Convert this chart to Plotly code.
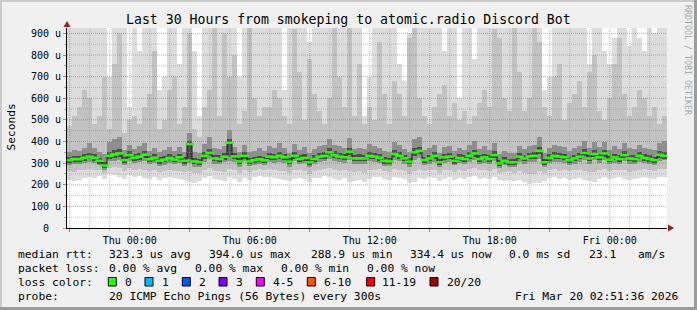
import plotly.graph_objects as go
import pandas as pd

# ---------------- data ----------------
title_text = "Last 30 Hours from smokeping to atomic.radio Discord Bot"
range_start = "2026-03-18 20:51:36"
range_end = "2026-03-20 02:51:36"
first_bucket = "2026-03-18 20:59:06"   # centre of the first 15-minute bucket
bucket = "15min"

median_us = [314, 319, 318, 325, 330, 325, 311, 289, 334, 340,
             345, 314, 337, 325, 330, 339, 318, 325, 311, 316,
             324, 316, 327, 311, 388, 308, 304, 334, 347, 322,
             319, 330, 394, 331, 308, 334, 308, 314, 318, 313,
             330, 327, 334, 327, 307, 334, 319, 324, 304, 319,
             330, 334, 350, 337, 330, 327, 353, 322, 322, 322,
             334, 330, 325, 311, 308, 342, 334, 322, 307, 350,
             357, 314, 322, 334, 304, 327, 330, 311, 324, 319,
             334, 345, 319, 327, 319, 337, 299, 311, 304, 304,
             330, 322, 331, 334, 357, 304, 324, 334, 330, 327,
             314, 322, 330, 347, 322, 342, 327, 345, 316, 327,
             319, 337, 322, 319, 334, 324, 319, 314, 339, 334]

ping_min = [220, 216, 222, 230, 236, 232, 240, 228, 250, 246,
            238, 226, 244, 236, 240, 232, 228, 236, 222, 230,
            238, 230, 226, 222, 214, 210, 218, 232, 240, 228,
            224, 216, 236, 226, 214, 232, 222, 238, 242, 236,
            236, 230, 226, 222, 218, 228, 232, 226, 214, 230,
            232, 240, 236, 226, 222, 230, 212, 216, 220, 214,
            226, 234, 238, 228, 222, 236, 232, 226, 210, 214,
            230, 226, 238, 232, 218, 228, 236, 222, 230, 226,
            236, 240, 228, 232, 226, 234, 220, 216, 222, 218,
            224, 212, 202, 206, 210, 218, 230, 236, 226, 232,
            224, 228, 232, 222, 218, 214, 228, 236, 226, 230,
            234, 228, 222, 226, 230, 236, 232, 226, 234, 238]

ping_lo = [262, 258, 266, 270, 274, 270, 268, 256, 278, 282,
           276, 262, 276, 268, 272, 266, 262, 270, 258, 264,
           270, 264, 262, 258, 262, 254, 256, 270, 278, 264,
           262, 258, 272, 266, 254, 270, 258, 266, 272, 268,
           272, 266, 264, 262, 256, 268, 266, 264, 252, 264,
           268, 272, 276, 266, 262, 268, 262, 258, 262, 256,
           266, 270, 272, 264, 258, 274, 268, 262, 252, 262,
           270, 262, 270, 268, 256, 266, 270, 260, 266, 262,
           272, 276, 266, 268, 262, 272, 256, 258, 262, 256,
           264, 256, 250, 252, 262, 256, 266, 272, 264, 268,
           262, 266, 270, 264, 260, 258, 266, 272, 262, 266,
           268, 266, 260, 264, 270, 272, 268, 262, 272, 274]

ping_core_lo = [292, 296, 294, 300, 304, 300, 290, 270, 308, 312,
                316, 292, 310, 300, 306, 312, 296, 300, 288, 292,
                300, 294, 302, 288, 300, 284, 282, 306, 318, 298,
                296, 304, 310, 306, 284, 308, 286, 292, 296, 290,
                304, 302, 306, 302, 284, 308, 296, 300, 282, 296,
                304, 308, 320, 310, 304, 302, 316, 298, 298, 296,
                308, 304, 300, 288, 286, 314, 308, 298, 284, 316,
                322, 292, 298, 306, 282, 302, 304, 290, 300, 296,
                306, 314, 296, 302, 296, 310, 276, 290, 282, 284,
                304, 298, 304, 306, 318, 282, 300, 306, 304, 302,
                292, 298, 304, 316, 298, 314, 302, 314, 294, 302,
                296, 308, 298, 296, 306, 300, 296, 292, 310, 314]

ping_dark_lo = [302, 306, 305, 312, 318, 312, 298, 278, 320, 326,
                330, 302, 322, 312, 316, 326, 305, 312, 298, 303,
                310, 303, 314, 298, 320, 295, 291, 320, 332, 309,
                306, 316, 330, 318, 295, 320, 295, 301, 305, 300,
                316, 314, 320, 314, 294, 320, 306, 311, 291, 306,
                317, 321, 335, 323, 317, 314, 336, 309, 309, 309,
                320, 317, 312, 298, 295, 328, 320, 309, 294, 334,
                340, 301, 309, 320, 291, 314, 317, 298, 311, 306,
                320, 330, 306, 314, 306, 323, 286, 298, 291, 291,
                317, 309, 318, 320, 340, 291, 311, 320, 317, 314,
                301, 309, 317, 332, 309, 328, 314, 330, 303, 314,
                306, 323, 309, 306, 320, 311, 306, 301, 325, 320]

ping_dark_hi = [330, 334, 332, 342, 348, 340, 326, 306, 352, 360,
                364, 330, 354, 340, 348, 356, 334, 342, 328, 332,
                342, 332, 344, 328, 404, 324, 320, 352, 366, 338,
                336, 348, 410, 348, 324, 350, 324, 330, 334, 330,
                348, 344, 352, 344, 324, 352, 336, 340, 320, 336,
                348, 352, 368, 354, 348, 344, 372, 338, 340, 338,
                352, 348, 342, 328, 324, 360, 352, 338, 324, 368,
                376, 330, 338, 352, 320, 344, 348, 328, 340, 336,
                352, 362, 336, 344, 336, 354, 316, 328, 320, 320,
                348, 338, 348, 352, 376, 320, 340, 352, 348, 344,
                330, 338, 348, 366, 338, 360, 344, 362, 332, 344,
                336, 354, 338, 336, 352, 340, 336, 330, 356, 352]

ping_core_hi = [352, 360, 356, 372, 392, 368, 350, 340, 396, 410,
                420, 360, 384, 366, 378, 392, 358, 372, 352, 362,
                374, 358, 376, 350, 440, 352, 346, 388, 420, 368,
                366, 380, 452, 376, 350, 384, 352, 358, 370, 356,
                378, 372, 392, 370, 348, 390, 360, 374, 346, 366,
                380, 386, 410, 384, 378, 372, 418, 366, 370, 364,
                388, 380, 372, 356, 350, 398, 384, 366, 350, 412,
                420, 360, 368, 386, 346, 374, 380, 354, 372, 362,
                384, 402, 364, 378, 362, 392, 340, 356, 346, 348,
                378, 366, 380, 386, 420, 348, 372, 386, 378, 376,
                358, 370, 380, 402, 368, 396, 376, 398, 362, 378,
                364, 392, 368, 366, 386, 372, 366, 360, 394, 404]

ping_hi = [470, 520, 560, 640, 600, 480, 520, 700, 460, 760,
           900, 440, 500, 520, 480, 560, 620, 820, 460, 500,
           640, 700, 480, 560, 900, 460, 420, 560, 640, 940,
           520, 900, 700, 800, 480, 540, 940, 600, 520, 560,
           560, 640, 600, 520, 480, 920, 720, 500, 780, 620,
           540, 480, 600, 940, 700, 560, 940, 520, 760, 480,
           560, 500, 860, 620, 480, 680, 620, 520, 880, 940,
           600, 520, 480, 560, 620, 660, 520, 580, 500, 540,
           480, 520, 580, 640, 560, 920, 880, 600, 540, 940,
           720, 540, 600, 940, 860, 560, 520, 700, 760, 500,
           580, 620, 680, 560, 720, 800, 540, 500, 600, 760,
           880, 620, 520, 560, 640, 600, 520, 560, 480, 520]

ping_max = [980, 980, 980, 980, 980, 980, 980, 980, 700, 980,
            980, 980, 560, 980, 820, 980, 980, 980, 640, 700,
            980, 980, 760, 980, 980, 820, 520, 980, 980, 980,
            980, 980, 980, 980, 700, 980, 980, 980, 980, 980,
            980, 980, 980, 640, 980, 980, 980, 980, 860, 980,
            980, 980, 980, 980, 980, 980, 980, 980, 980, 520,
            700, 980, 980, 980, 980, 980, 760, 680, 900, 980,
            980, 980, 980, 980, 980, 820, 980, 980, 600, 980,
            980, 780, 980, 980, 980, 980, 980, 980, 980, 980,
            980, 980, 980, 980, 980, 640, 700, 980, 980, 980,
            980, 980, 980, 980, 760, 980, 980, 820, 760, 880,
            980, 980, 840, 980, 880, 820, 980, 900, 980, 980]

y_tick_vals = [0, 100, 200, 300, 400, 500, 600, 700, 800, 900]
y_tick_text = ["0\u00a0\u00a0", "100 u", "200 u", "300 u", "400 u",
               "500 u", "600 u", "700 u", "800 u", "900 u"]
y_minor_vals = [50, 150, 250, 350, 450, 550, 650, 750, 850]
y_max = 925

x_tick_vals = ["2026-03-18 21:00", "2026-03-19 00:00", "2026-03-19 03:00",
               "2026-03-19 06:00", "2026-03-19 09:00", "2026-03-19 12:00",
               "2026-03-19 15:00", "2026-03-19 18:00", "2026-03-19 21:00",
               "2026-03-20 00:00"]
x_tick_text = ["", "Thu 00:00", "", "Thu 06:00", "", "Thu 12:00", "",
               "Thu 18:00", "", "Fri 00:00"]

rtt_label = "median rtt:"
rtt_stats = ["323.3 us avg", "394.0 us max", "288.9 us min",
             "334.4 us now", "0.0 ms sd", "23.1", "am/s"]
loss_label = "packet loss:"
loss_stats = ["0.00 % avg", "0.00 % max", "0.00 % min", "0.00 % now"]
color_label = "loss color:"
loss_names = ["0", "1", "2", "3", "4-5", "6-10", "11-19", "20/20"]
loss_colors = ["#26ff00", "#00b8ff", "#0059ff", "#7e00ff",
               "#ff00ff", "#ff5500", "#ff0000", "#a10000"]
probe_label = "probe:"
probe_text = "20 ICMP Echo Pings (56 Bytes) every 300s"
stamp_text = "Fri Mar 20 02:51:36 2026"
watermark = "RRDTOOL / TOBI OETIKER"

# ---------------- layout geometry ----------------
W, H = 697, 310
L, R, T, B = 67, 667, 28, 228
MONO = "DejaVu Sans Mono"


def fx(px):
    return (px - L) / (R - L)


def fy(py):
    return (B - py) / (B - T)


times = pd.date_range(first_bucket, periods=len(median_us), freq=bucket)
bar_w = pd.Timedelta(bucket).total_seconds() * 1000

fig = go.Figure()

bands = [
    (ping_min, ping_max, "#dcdcdc"),
    (ping_lo, ping_hi, "#c2c2c2"),
    (ping_core_lo, ping_core_hi, "#8e8e8e"),
    (ping_dark_lo, ping_dark_hi, "#4c4c4c"),
]
for lo, hi, col in bands:
    fig.add_trace(go.Bar(
        x=times, base=lo, y=[h - l for l, h in zip(lo, hi)], width=bar_w,
        marker=dict(color=col, line=dict(width=0)), opacity=1,
        hoverinfo="skip", showlegend=False))

fig.add_trace(go.Scatter(
    x=times, y=median_us, mode="lines", line=dict(color="#1a1a1a", width=1, shape="hvh"),
    hoverinfo="skip", showlegend=False))
fig.add_trace(go.Scatter(
    x=times, y=median_us, mode="markers",
    marker=dict(symbol="line-ew", size=6, line=dict(color=loss_colors[0], width=2.5)),
    hoverinfo="skip", showlegend=False))

shapes = []
grid_minor = "rgba(150,150,150,0.55)"
grid_major = "rgba(235,60,60,0.5)"
dash = "1px,1px"

# vertical grid lines (hourly minor, 3-hourly major)
major_ts = set(pd.to_datetime(x_tick_vals))
for t in pd.date_range("2026-03-18 21:00", "2026-03-20 02:00", freq="1h"):
    shapes.append(dict(type="line", xref="x", yref="paper", x0=t, x1=t, y0=0, y1=1,
                       line=dict(color=grid_major if t in major_ts else grid_minor,
                                 width=1, dash=dash), layer="above"))
for v in y_minor_vals:
    shapes.append(dict(type="line", xref="paper", yref="y", x0=0, x1=1, y0=v, y1=v,
                       line=dict(color=grid_minor, width=1, dash=dash), layer="above"))
for v in y_tick_vals[1:]:
    shapes.append(dict(type="line", xref="paper", yref="y", x0=0, x1=1, y0=v, y1=v,
                       line=dict(color=grid_major, width=1, dash=dash), layer="above"))

# axis arrows
arrow_col = "#9a1b1b"
shapes.append(dict(type="path", xref="paper", yref="paper", xsizemode="pixel", ysizemode="pixel",
                   xanchor=0, yanchor=1, path="M -3.5,1 L 3.5,1 L 0,7 Z",
                   fillcolor=arrow_col, line=dict(width=0), layer="above"))
shapes.append(dict(type="path", xref="paper", yref="paper", xsizemode="pixel", ysizemode="pixel",
                   xanchor=1, yanchor=0, path="M 1,-3.5 L 1,3.5 L 7,0 Z",
                   fillcolor=arrow_col, line=dict(width=0), layer="above"))

# frame shading
shapes += [
    dict(type="rect", xref="paper", yref="paper", x0=fx(0), x1=fx(W), y0=fy(0), y1=fy(2),
         fillcolor="#cbcbcb", line=dict(width=0), layer="below"),
    dict(type="rect", xref="paper", yref="paper", x0=fx(0), x1=fx(2), y0=fy(0), y1=fy(H),
         fillcolor="#cbcbcb", line=dict(width=0), layer="below"),
    dict(type="rect", xref="paper", yref="paper", x0=fx(W - 3), x1=fx(W), y0=fy(0), y1=fy(H),
         fillcolor="#9c9c9c", line=dict(width=0), layer="below"),
    dict(type="rect", xref="paper", yref="paper", x0=fx(0), x1=fx(W), y0=fy(H - 3), y1=fy(H),
         fillcolor="#9c9c9c", line=dict(width=0), layer="below"),
]

annotations = []


def text(s, x, y, size=11.3, color="#000000", anchor="left", angle=0):
    annotations.append(dict(text=s, x=fx(x), y=fy(y), xref="paper", yref="paper",
                            xanchor=anchor, yanchor="middle", showarrow=False,
                            textangle=angle, font=dict(family=MONO, size=size, color=color)))


text(title_text, 348, 19, size=13.2, anchor="center")
text("Seconds", 10.5, 127, size=11.2, anchor="center", angle=-90)
text(watermark, 688, 60, size=8.3, color="#aaaaaa", anchor="center", angle=90)

row_y = [254.3, 268.3, 282.3, 296.3]
text(rtt_label, 16, row_y[0])
for s, x in zip(rtt_stats, [107.3, 207.3, 308.6, 407.7, 507.3, 586.7, 635.7]):
    text(s, x, row_y[0])
text(loss_label, 16, row_y[1])
for s, x in zip(loss_stats, [107.3, 193.3, 279.3, 365.0]):
    text(s, x, row_y[1])
text(color_label, 16, row_y[2])
sq_x = [108.3, 145.0, 182.3, 219.0, 256.3, 307.3, 366.7, 430.0]
lab_x = [123.3, 160.0, 197.3, 234.0, 271.0, 321.7, 380.0, 445.0]
for name, col, sx, lx in zip(loss_names, loss_colors, sq_x, lab_x):
    shapes.append(dict(type="rect", xref="paper", yref="paper",
                       x0=fx(sx), x1=fx(sx + 8), y0=fy(286), y1=fy(277.5),
                       fillcolor=col, line=dict(color="#000000", width=1), layer="above"))
    text(name, lx, row_y[2])
text(probe_label, 16, row_y[3])
text(probe_text, 107.3, row_y[3])
text(stamp_text, 513.3, row_y[3])

fig.update_layout(
    width=W, height=H,
    margin=dict(l=L, r=W - R, t=T, b=H - B, pad=0),
    paper_bgcolor="#f0f0f0", plot_bgcolor="#ffffff",
    barmode="overlay", bargap=0,
    showlegend=False,
    shapes=shapes, annotations=annotations,
    font=dict(family=MONO, size=10, color="#000000"),
    xaxis=dict(type="date", range=[range_start, range_end], showgrid=False, zeroline=False,
               tickmode="array", tickvals=x_tick_vals, ticktext=x_tick_text,
               ticks="outside", ticklen=3, tickcolor="rgba(230,60,60,0.7)", tickwidth=1,
               tickfont=dict(family=MONO, size=10, color="#000000"),
               showline=True, linecolor="#000000", linewidth=1,
               minor=dict(dtick=3600000, tick0="2026-03-18 21:00", ticks="outside",
                          ticklen=2, tickcolor="rgba(150,150,150,0.7)", showgrid=False),
               fixedrange=True),
    yaxis=dict(range=[0, y_max], showgrid=False, zeroline=False,
               tickmode="array", tickvals=y_tick_vals, ticktext=y_tick_text,
               ticks="outside", ticklen=3, tickcolor="rgba(230,60,60,0.7)", tickwidth=1,
               tickfont=dict(family=MONO, size=10, color="#000000"),
               showline=True, linecolor="#000000", linewidth=1,
               minor=dict(tickvals=y_minor_vals, ticks="outside", ticklen=2,
                          tickcolor="rgba(150,150,150,0.7)", showgrid=False),
               fixedrange=True),
)

fig.write_html("out.html")
